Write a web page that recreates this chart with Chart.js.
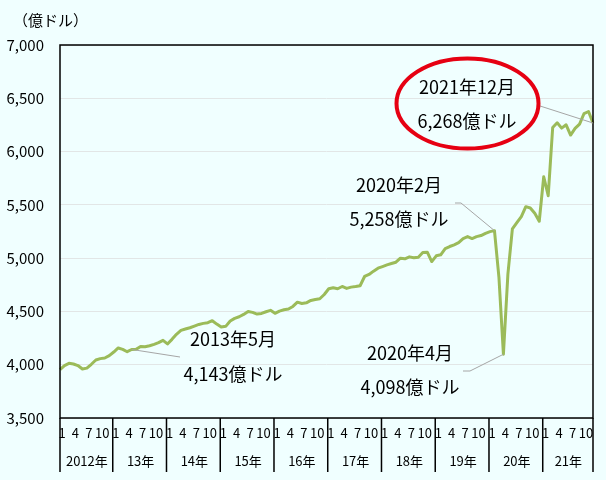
<!DOCTYPE html>
<html>
<head>
<meta charset="utf-8">
<script src="https://cdn.jsdelivr.net/npm/chart.js@4.4.1/dist/chart.umd.min.js"></script>
<style>
  html, body { margin: 0; padding: 0; background: #f0ffff; }
  #wrap { width: 606px; height: 480px; }
</style>
</head>
<body>
<div id="wrap"><canvas id="chart" width="606" height="480"></canvas></div>
<script>
// data, monthly Jan 2012 - Dec 2021 (億ドル)
const years = ['2012年', '13年', '14年', '15年', '16年', '17年', '18年', '19年', '20年', '21年'];
const shownMonths = [1, 4, 7, 10];
const sales = [
  3954, 3992, 4013, 4007, 3992, 3960, 3968, 4004, 4044, 4057, 4063, 4085,
  4119, 4157, 4144, 4122, 4143, 4144, 4172, 4169, 4178, 4191, 4207, 4229,
  4195, 4238, 4285, 4322, 4335, 4347, 4363, 4378, 4388, 4394, 4413, 4381,
  4353, 4360, 4410, 4435, 4450, 4472, 4500, 4491, 4475, 4481, 4497, 4510,
  4482, 4503, 4516, 4522, 4547, 4587, 4575, 4581, 4603, 4612, 4619, 4659,
  4713, 4722, 4713, 4734, 4716, 4728, 4734, 4741, 4828, 4847, 4878, 4906,
  4921, 4937, 4950, 4962, 5000, 4994, 5012, 5003, 5009, 5053, 5056, 4968,
  5022, 5031, 5090, 5109, 5125, 5146, 5184, 5202, 5184, 5202, 5212, 5233,
  5249, 5258, 4820, 4098, 4850, 5274, 5333, 5390, 5483, 5471, 5421, 5346,
  5764, 5586, 6226, 6270, 6220, 6251, 6155, 6217, 6257, 6357, 6376, 6268
];
const yMin = 3500, yMax = 7000, yStep = 500;

// callouts: which month they point at and their text
const notes = [
  { idx: 16, text: ['2013年5月', '4,143億ドル'], tx: 233, ty: [339, 374], leader: [[180, 357]] },
  { idx: 97, text: ['2020年2月', '5,258億ドル'], tx: 399, ty: [185, 219], leader: [[461, 203], [455, 203]] },
  { idx: 99, text: ['2020年4月', '4,098億ドル'], tx: 410, ty: [353, 387], leader: [[470, 371], [463, 371]] },
  { idx: 119, text: ['2021年12月', '6,268億ドル'], tx: 467, ty: [87, 121], leader: [[537, 105]] }
];

const FONT = '"Noto Sans CJK JP", "Noto Sans", sans-serif';

let labels = [];
years.forEach(y => {
  for (let m = 1; m <= 12; m++) labels.push(m);
});

const extras = {
  id: 'extras',
  beforeDraw(c) {
    const ctx = c.ctx;
    ctx.save();
    ctx.fillStyle = '#f0ffff';
    ctx.fillRect(0, 0, c.width, c.height);
    ctx.restore();
  },
  afterDatasetsDraw(c) {
    const ctx = c.ctx;
    const a = c.chartArea;
    const xs = c.scales.x, ys = c.scales.y;
    ctx.save();

    // frame
    ctx.strokeStyle = '#000';
    ctx.lineWidth = 1.5;
    ctx.strokeRect(a.left, a.top, a.right - a.left, a.bottom - a.top);

    // year separators + year labels
    ctx.beginPath();
    for (let k = 0; k <= years.length; k++) {
      let x = k == 0 ? a.left : (k == years.length ? a.right : xs.getPixelForValue(k * 12) - 1);
      ctx.moveTo(x, a.bottom);
      ctx.lineTo(x, 472);
    }
    ctx.stroke();
    ctx.fillStyle = '#000';
    ctx.font = '13px ' + FONT;
    ctx.textAlign = 'center';
    ctx.textBaseline = 'middle';
    years.forEach((y, k) => {
      let x0 = k == 0 ? a.left : xs.getPixelForValue(k * 12);
      let x1 = k == years.length - 1 ? a.right : xs.getPixelForValue(k * 12 + 12);
      ctx.fillText(y, (x0 + x1) / 2, 461);
    });

    // unit
    ctx.font = '15px ' + FONT;
    ctx.textAlign = 'left';
    ctx.fillText('（億ドル）', 13, 20);

    // callouts
    notes.forEach(n => {
      let px = xs.getPixelForValue(n.idx), py = ys.getPixelForValue(sales[n.idx]);
      ctx.strokeStyle = '#a6a6a6';
      ctx.lineWidth = 1;
      ctx.beginPath();
      ctx.moveTo(px, py);
      n.leader.forEach(p => ctx.lineTo(p[0], p[1]));
      ctx.stroke();
      ctx.font = '18px ' + FONT;
      ctx.textAlign = 'center';
      ctx.fillStyle = '#000';
      ctx.fillText(n.text[0], n.tx, n.ty[0]);
      ctx.fillText(n.text[1], n.tx, n.ty[1]);
    });

    // red ring around the last value
    ctx.strokeStyle = '#e60012';
    ctx.lineWidth = 4;
    ctx.beginPath();
    ctx.ellipse(467.5, 103.5, 71, 45, 0, 0, Math.PI * 2);
    ctx.stroke();

    ctx.restore();
  }
};

new Chart(document.getElementById('chart'), {
  type: 'line',
  data: {
    labels: labels,
    datasets: [{
      data: sales,
      borderColor: '#9bbb59',
      borderWidth: 3,
      pointRadius: 0,
      tension: 0,
      borderJoinStyle: 'round',
      fill: false
    }]
  },
  options: {
    responsive: false,
    animation: false,
    devicePixelRatio: 1,
    layout: { padding: { top: 45, right: 13, left: 0, bottom: 0 } },
    plugins: { legend: { display: false }, tooltip: { enabled: false } },
    scales: {
      x: {
        type: 'category',
        offset: false,
        grid: { display: false, drawTicks: false },
        border: { display: false },
        afterFit: s => { s.height = 62; },
        ticks: {
          autoSkip: false,
          maxRotation: 0,
          padding: 7,
          labelOffset: 2,
          color: '#000',
          font: { family: FONT, size: 13 },
          callback: (v, i) => shownMonths.includes(labels[i]) ? String(labels[i]) : ''
        }
      },
      y: {
        min: yMin,
        max: yMax,
        grid: { color: '#e2e6e6', drawTicks: false },
        border: { display: false },
        afterFit: s => { s.width = 60; },
        ticks: {
          stepSize: yStep,
          padding: 16,
          color: '#000',
          font: { family: FONT, size: 15 },
          callback: v => v.toLocaleString('en-US')
        }
      }
    }
  },
  plugins: [extras]
});
</script>
</body>
</html>
